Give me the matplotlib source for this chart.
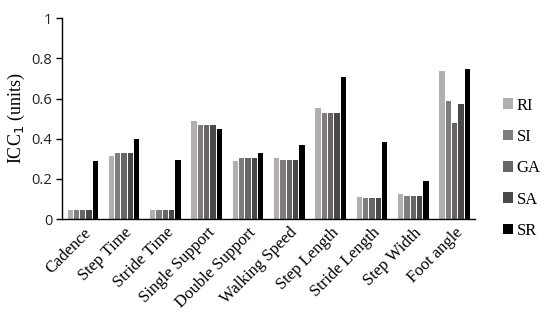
import matplotlib
matplotlib.use("Agg")
import matplotlib.pyplot as plt
import numpy as np

categories = ["Cadence", "Step Time", "Stride Time", "Single Support", "Double Support",
              "Walking Speed", "Step Length", "Stride Length", "Step Width", "Foot angle"]
series_names = ["RI", "SI", "GA", "SA", "SR"]
RI = [0.045, 0.312, 0.045, 0.490, 0.287, 0.303, 0.552, 0.112, 0.125, 0.735]
SI = [0.045, 0.328, 0.045, 0.470, 0.305, 0.295, 0.528, 0.107, 0.113, 0.590]
GA = [0.045, 0.328, 0.045, 0.470, 0.305, 0.295, 0.528, 0.107, 0.113, 0.480]
SA = [0.045, 0.328, 0.045, 0.470, 0.305, 0.295, 0.528, 0.107, 0.113, 0.572]
SR = [0.290, 0.398, 0.293, 0.448, 0.330, 0.370, 0.705, 0.385, 0.192, 0.745]
yticks = [0, 0.2, 0.4, 0.6, 0.8, 1]
ytick_labels = ["0", "0.2", "0.4", "0.6", "0.8", "1"]

colors = ["#b2afb0", "#807c7d", "#676565", "#4a4848", "#000000"]
series = [RI, SI, GA, SA, SR]

fig = plt.figure(figsize=(5.5, 3.3), dpi=100)
ax = fig.add_axes([0.113, 0.336, 0.751, 0.609])

x = np.arange(len(categories))
pitch = 0.153
width = 0.128
for i, (vals, name, c) in enumerate(zip(series, series_names, colors)):
    ax.bar(x + (i - 2) * pitch, vals, width=width, color=c, label=name)

ax.set_xlim(-0.5, len(categories) - 0.5)
ax.set_ylim(0, 1)
ax.set_yticks(yticks)
ax.set_yticklabels(ytick_labels, fontsize=10.5, family="Open Sans", color="#222222")
ax.set_xticks(x)
ax.set_xticklabels(categories, rotation=45, ha="right", rotation_mode="anchor",
                   fontsize=12, family="Liberation Serif")
ax.tick_params(axis="x", length=0, pad=4)
ax.tick_params(axis="y", length=4, width=1, direction="out", pad=3)
for s in ["top", "right"]:
    ax.spines[s].set_visible(False)
ax.spines["left"].set_linewidth(1.0)
ax.spines["bottom"].set_linewidth(1.0)
ax.set_ylabel("ICC$_1$ (units)", fontsize=13, family="Liberation Serif", labelpad=4)
ax.yaxis.set_label_coords(-0.085, 0.5)

leg = ax.legend(loc="center left", bbox_to_anchor=(0.888, 0.49), bbox_transform=fig.transFigure,
                frameon=False, handlelength=0.6, handleheight=0.6, handletextpad=0.2,
                labelspacing=0.92, prop={"family": "Liberation Serif", "size": 12})

fig.savefig("out.png", dpi=100)
